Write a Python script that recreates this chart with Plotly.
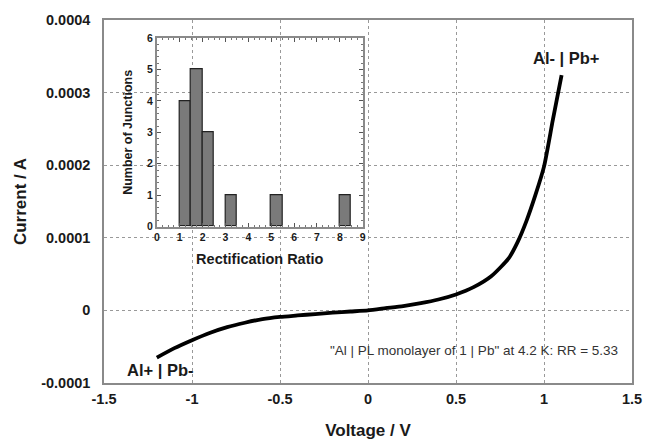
import plotly.graph_objects as go

# Main I-V curve
voltage = [-1.2, -1.1, -1.0, -0.9, -0.8, -0.7, -0.6, -0.5, -0.4, -0.3, -0.2, -0.1, 0.0,
           0.1, 0.2, 0.3, 0.4, 0.5, 0.6, 0.7, 0.8, 0.85, 0.9, 0.95, 1.0, 1.05, 1.1]
current = [-0.65e-4, -0.52e-4, -0.41e-4, -0.31e-4, -0.23e-4, -0.17e-4, -0.12e-4, -0.09e-4,
           -0.07e-4, -0.05e-4, -0.03e-4, -0.015e-4, 0.0, 0.03e-4, 0.06e-4, 0.10e-4, 0.15e-4,
           0.22e-4, 0.32e-4, 0.47e-4, 0.72e-4, 0.94e-4, 1.23e-4, 1.58e-4, 1.98e-4, 2.62e-4, 3.24e-4]

# Inset histogram
rr_bin_centers = [1.25, 1.75, 2.25, 3.25, 5.25, 8.25]
junction_counts = [4, 5, 3, 1, 1, 1]

x_ticks = [-1.5, -1, -0.5, 0, 0.5, 1, 1.5]
x_ticklabels = ["-1.5", "-1", "-0.5", "0", "0.5", "1", "1.5"]
y_ticks = [-0.0001, 0, 0.0001, 0.0002, 0.0003, 0.0004]
y_ticklabels = ["-0.0001", "0", "0.0001", "0.0002", "0.0003", "0.0004"]

FONT = "Liberation Sans, Arial, sans-serif"
TXT = "#1a1a1a"
FRAME = "#8a8a8a"

fig = go.Figure()
fig.add_trace(go.Scatter(x=voltage, y=current, mode="lines", line=dict(color="black", width=3.8,
                         shape="spline", smoothing=0.6), xaxis="x", yaxis="y", showlegend=False))
fig.add_trace(go.Bar(x=rr_bin_centers, y=junction_counts, width=0.5,
                     marker=dict(color="#7a7a7a", line=dict(color="#222222", width=1.2)),
                     xaxis="x2", yaxis="y2", showlegend=False))

fig.update_layout(
    width=645, height=445,
    margin=dict(l=104, r=13, t=20, b=62),
    paper_bgcolor="white", plot_bgcolor="rgba(0,0,0,0)",
    font=dict(family=FONT, color=TXT),
    xaxis=dict(range=[-1.5, 1.5], tickvals=x_ticks, ticktext=x_ticklabels, automargin=False,
               showgrid=True, gridcolor="#999999", griddash="dot", gridwidth=1,
               zeroline=False, showline=True, linecolor=FRAME, linewidth=1.5, mirror=True,
               ticks="", tickfont=dict(size=14.5, family=FONT, weight="bold"), ticklabelstandoff=2,
               title=dict(text="Voltage / V", font=dict(size=17, family=FONT, weight="bold"), standoff=18)),
    yaxis=dict(range=[-0.0001, 0.0004], tickvals=y_ticks, ticktext=y_ticklabels, automargin=False,
               showgrid=True, gridcolor="#999999", griddash="dot", gridwidth=1,
               zeroline=False, showline=True, linecolor=FRAME, linewidth=1.5, mirror=True,
               ticks="", tickfont=dict(size=14.5, family=FONT, weight="bold"), ticklabelstandoff=9,
               title=dict(text="Current / A", font=dict(size=17, family=FONT, weight="bold"), standoff=10)),
    xaxis2=dict(domain=[0.100, 0.490], anchor="y2", range=[0, 9], tickvals=list(range(10)),
                automargin=False,
                showgrid=False, zeroline=False, showline=True, linecolor=FRAME, linewidth=1.5,
                mirror="ticks", ticks="inside", ticklen=4, tickcolor="#555555",
                minor=dict(dtick=0.25, ticks="inside", ticklen=2, tickcolor="#777777"),
                tickfont=dict(size=10.5, family=FONT, weight="bold"),
                title=dict(text="Rectification Ratio", font=dict(size=14.5, family=FONT, weight="bold"), standoff=12)),
    yaxis2=dict(domain=[0.431, 0.950], anchor="x2", range=[0, 6], tickvals=list(range(7)),
                automargin=False,
                showgrid=False, zeroline=False, showline=True, linecolor=FRAME, linewidth=1.5,
                mirror="ticks", ticks="inside", ticklen=4, tickcolor="#555555",
                minor=dict(dtick=0.2, ticks="inside", ticklen=2, tickcolor="#777777"),
                tickfont=dict(size=10.5, family=FONT, weight="bold"),
                title=dict(text="Number of Junctions", font=dict(size=12.5, family=FONT, weight="bold"), standoff=12)),
    bargap=0,
    annotations=[
        dict(x=1.13, y=0.000348, xref="x", yref="y", text="<b>Al- | Pb+</b>", showarrow=False,
             font=dict(size=16.5, family=FONT, color=TXT)),
        dict(x=-1.18, y=-0.000082, xref="x", yref="y", text="<b>Al+ | Pb-</b>", showarrow=False,
             font=dict(size=16.5, family=FONT, color=TXT)),
        dict(x=0.6, y=-0.000055, xref="x", yref="y",
             text="\"Al | PL monolayer of 1 | Pb\" at 4.2 K: RR = 5.33", showarrow=False,
             font=dict(size=13.5, family=FONT, color="#333333")),
    ],
)

fig.write_html("out.html")
